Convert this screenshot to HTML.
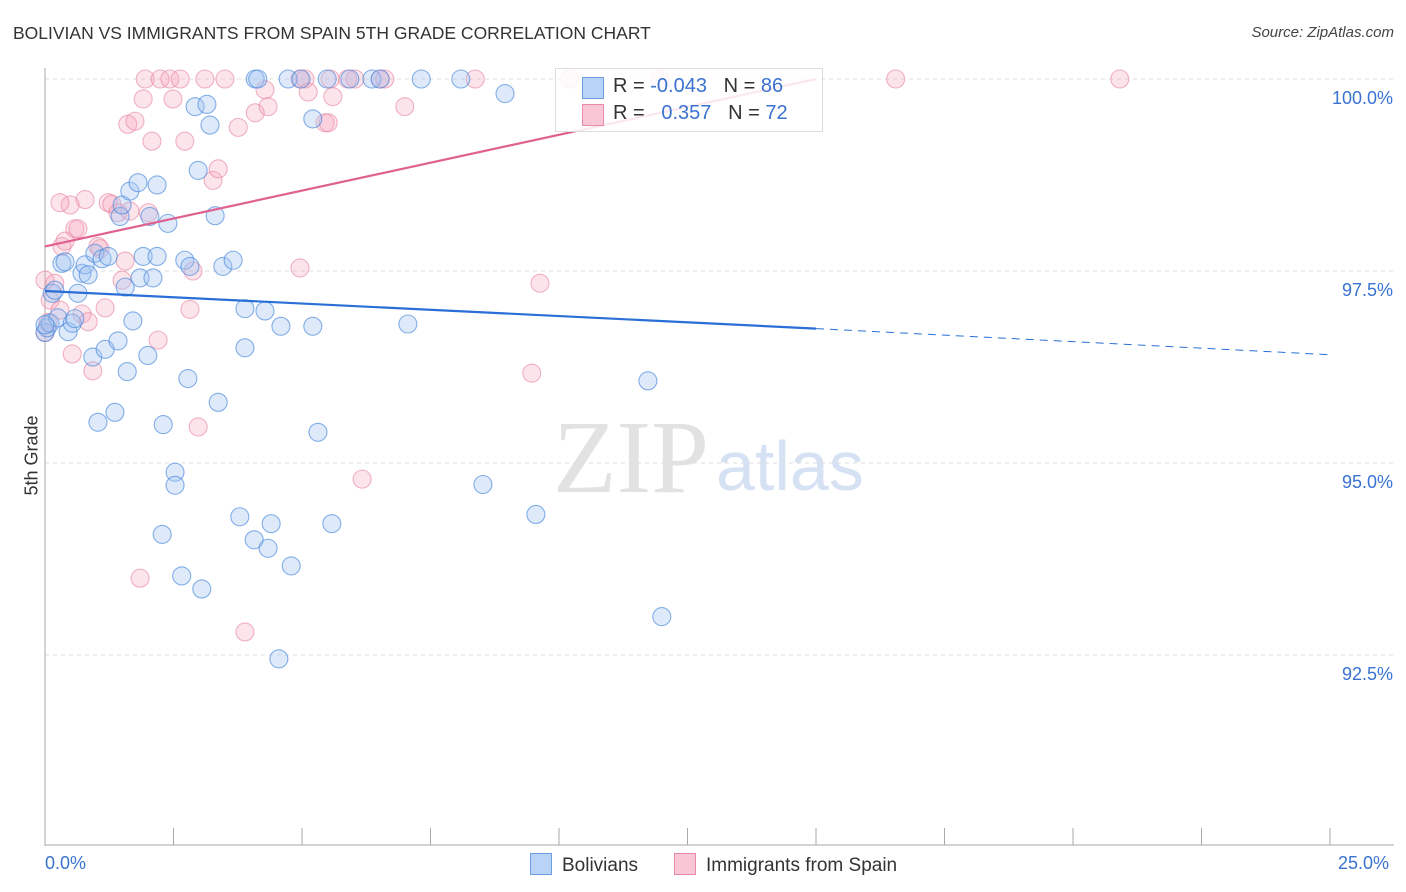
<!DOCTYPE html>
<html><head><meta charset="utf-8"><style>
body{margin:0;background:#fff;font-family:"Liberation Sans",sans-serif;}
#wrap{position:relative;width:1406px;height:892px;overflow:hidden}
.t{position:absolute;white-space:nowrap}
</style></head><body>
<div id="wrap">
<div class="t" style="left:13px;top:23px;font-size:17.5px;color:#333">BOLIVIAN VS IMMIGRANTS FROM SPAIN 5TH GRADE CORRELATION CHART</div>
<div class="t" style="right:12px;top:24px;font-size:15px;color:#444;font-style:italic">Source: ZipAtlas.com</div>
<svg id="svg" width="1406" height="892" style="position:absolute;left:0;top:0">
<text x="553" y="492" font-family="Liberation Serif" font-size="104" fill="#e2e2e2">ZIP</text>
<text x="716" y="490" font-family="Liberation Sans" font-size="70" fill="#d6e2f3">atlas</text>
<g id="grid"></g><g id="pts"></g><g id="lines"></g>
</svg>
<div style="position:absolute;left:555px;top:68px;width:266px;height:62px;border:1px solid #ddd;background:rgba(255,255,255,0.85);font-size:20px">
 <div style="position:absolute;left:26px;top:8px;width:20px;height:20px;background:#b8d3f5;border:1px solid #6a9fe0"></div>
 <div class="t" style="left:57px;top:6px;color:#333">R = <span style="color:#3a72d0">-0.043</span>&nbsp;&nbsp;&nbsp;N = <span style="color:#3a72d0">86</span></div>
 <div style="position:absolute;left:26px;top:35px;width:20px;height:20px;background:#f8c6d4;border:1px solid #e98aa8"></div>
 <div class="t" style="left:57px;top:33px;color:#333">R = &nbsp;&nbsp;<span style="color:#3a72d0">0.357</span>&nbsp;&nbsp;&nbsp;N = <span style="color:#3a72d0">72</span></div>
</div>
<div class="t" style="left:-8px;top:445px;transform:rotate(-90deg);font-size:18px;color:#333">5th Grade</div>
<div class="t" style="left:45px;top:853px;font-size:18px;color:#3a72d0">0.0%</div>
<div class="t" style="left:1338px;top:853px;font-size:18px;color:#3a72d0">25.0%</div>
<div style="position:absolute;left:530px;top:853px;font-size:19px;color:#333"><span style="display:inline-block;width:20px;height:20px;background:#b8d3f5;border:1px solid #6a9fe0;vertical-align:-4px;margin-right:10px"></span>Bolivians</div>
<div style="position:absolute;left:674px;top:853px;font-size:19px;color:#333"><span style="display:inline-block;width:20px;height:20px;background:#f8c6d4;border:1px solid #e98aa8;vertical-align:-4px;margin-right:10px"></span>Immigrants from Spain</div>
</div>
<script>
const yTicks=[100,97.5,95,92.5];
const yTickLabels=["100.0%","97.5%","95.0%","92.5%"];
const blueX=[0,0.04,0.1,0.14,0.19,0.25,0.33,0.39,0.45,0.53,0.58,0.64,0.72,0.78,0.84,0.93,0.97,1.03,1.11,1.17,1.23,1.36,1.42,1.46,1.5,1.56,1.6,1.65,1.71,1.81,1.85,1.91,2.0,2.04,2.1,2.18,2.18,2.28,2.3,2.39,2.53,2.53,2.66,2.72,2.78,2.82,2.92,2.98,3.05,3.15,3.21,3.31,3.37,3.46,3.66,3.79,3.89,3.89,4.07,4.09,4.14,4.28,4.34,4.4,4.59,4.73,4.79,4.98,5.21,5.21,5.31,5.49,5.58,5.93,6.36,6.52,7.06,7.32,8.09,8.52,8.95,9.55,11.73,12.0,4.55,0];
const blueY=[96.7,96.76,96.82,97.21,97.25,96.89,97.6,97.62,96.71,96.82,96.88,97.21,97.47,97.58,97.45,96.38,97.73,95.53,97.66,96.48,97.69,95.66,96.59,98.21,98.36,97.29,96.19,98.54,96.85,98.65,97.41,97.69,96.4,98.21,97.41,98.62,97.69,94.07,95.5,98.12,94.88,94.71,93.53,97.64,96.1,97.56,99.64,98.81,93.36,99.67,99.4,98.22,95.79,97.56,97.64,94.3,96.5,97.01,94.0,100,100,96.98,93.89,94.21,96.78,100,93.66,100,99.48,96.78,95.4,100,94.21,100,100,100,96.81,100,100,94.72,99.81,94.33,96.07,93.0,92.45,96.8];
const pinkX=[0,0.06,0.1,0.19,0.29,0.33,0.39,0.49,0.53,0.58,0.64,0.72,0.78,0.84,0.93,1.03,1.07,1.17,1.23,1.3,1.42,1.5,1.56,1.61,1.65,1.75,1.85,1.91,1.95,2.01,2.08,2.2,2.24,2.43,2.49,2.63,2.72,2.88,2.82,2.98,3.11,3.27,3.37,3.5,3.76,3.89,4.09,4.28,4.34,4.96,4.96,5.06,5.12,5.45,5.51,5.55,5.6,5.89,6.03,6.17,6.52,6.61,7.0,8.37,9.47,9.63,10.21,11.96,16.55,20.91,0.29,0];
const pinkY=[97.38,96.83,97.12,97.34,96.99,97.82,97.89,98.36,96.42,98.05,98.05,96.94,98.43,96.84,96.2,97.82,97.79,97.02,98.39,98.37,98.26,97.38,97.63,99.41,98.28,99.45,93.5,99.74,100,98.26,99.19,96.6,100,100,99.74,100,99.19,97.5,97.0,95.47,100,98.68,98.83,100,99.37,92.8,99.56,99.86,99.64,97.54,100,100,99.83,99.43,99.43,100,99.77,100,100,94.79,100,100,99.64,100,96.17,97.34,100,100,100,100,98.39,96.7];
const S="http://www.w3.org/2000/svg";
const X0=45,XW=1285,Y0=79,YU=76.8;
function sx(v){return X0+v/25*XW}
function sy(v){return Y0+(100-v)*YU}
function mk(t,a,p){const e=document.createElementNS(S,t);for(const k in a)e.setAttribute(k,a[k]);p.appendChild(e);return e}
const grid=document.getElementById('grid'),pts=document.getElementById('pts'),lines=document.getElementById('lines'),svg=document.getElementById('svg');
yTicks.forEach((v,i)=>{
 const g=mk('line',{x1:45,x2:1394,y1:sy(v),y2:sy(v),stroke:'#ddd','stroke-dasharray':'4,4'},grid);
 
 
 const t=mk('text',{x:1393,y:sy(v)+25,'text-anchor':'end','font-size':18,fill:'#3a72d0','font-family':'Liberation Sans'},grid);
 t.textContent=yTickLabels[i];
 
 
});
const ax=mk('line',{x1:45,x2:45,y1:68,y2:846,stroke:'#aaa'},grid);


const bx=mk('line',{x1:45,x2:1394,y1:845,y2:845,stroke:'#aaa'},grid);


for(let i=0;i<=10;i++){const tk=mk('line',{x1:sx(i*2.5),x2:sx(i*2.5),y1:828,y2:845,stroke:'#aaa'},grid);
 
 }
pinkX.forEach((x,i)=>{const c=mk('circle',{cx:sx(x),cy:sy(pinkY[i]),r:9,fill:'rgba(244,165,190,0.3)',stroke:'rgba(232,130,160,0.6)','stroke-width':1.1},pts);
 
 });
blueX.forEach((x,i)=>{const c=mk('circle',{cx:sx(x),cy:sy(blueY[i]),r:9,fill:'rgba(160,195,240,0.35)',stroke:'rgba(70,135,220,0.65)','stroke-width':1.1},pts);
 
 });
const bl=mk('line',{x1:sx(0),y1:sy(97.24),x2:sx(15),y2:sy(96.75),stroke:'#2a6fd6','stroke-width':2.2},lines);


const bd=mk('line',{x1:sx(15),y1:sy(96.75),x2:sx(25),y2:sy(96.41),stroke:'#2a6fd6','stroke-width':1,'stroke-dasharray':'8,6'},lines);


const pl=mk('line',{x1:sx(0),y1:sy(97.82),x2:sx(15),y2:sy(100),stroke:'#e06090','stroke-width':2.2},lines);


</script>
</body></html>
